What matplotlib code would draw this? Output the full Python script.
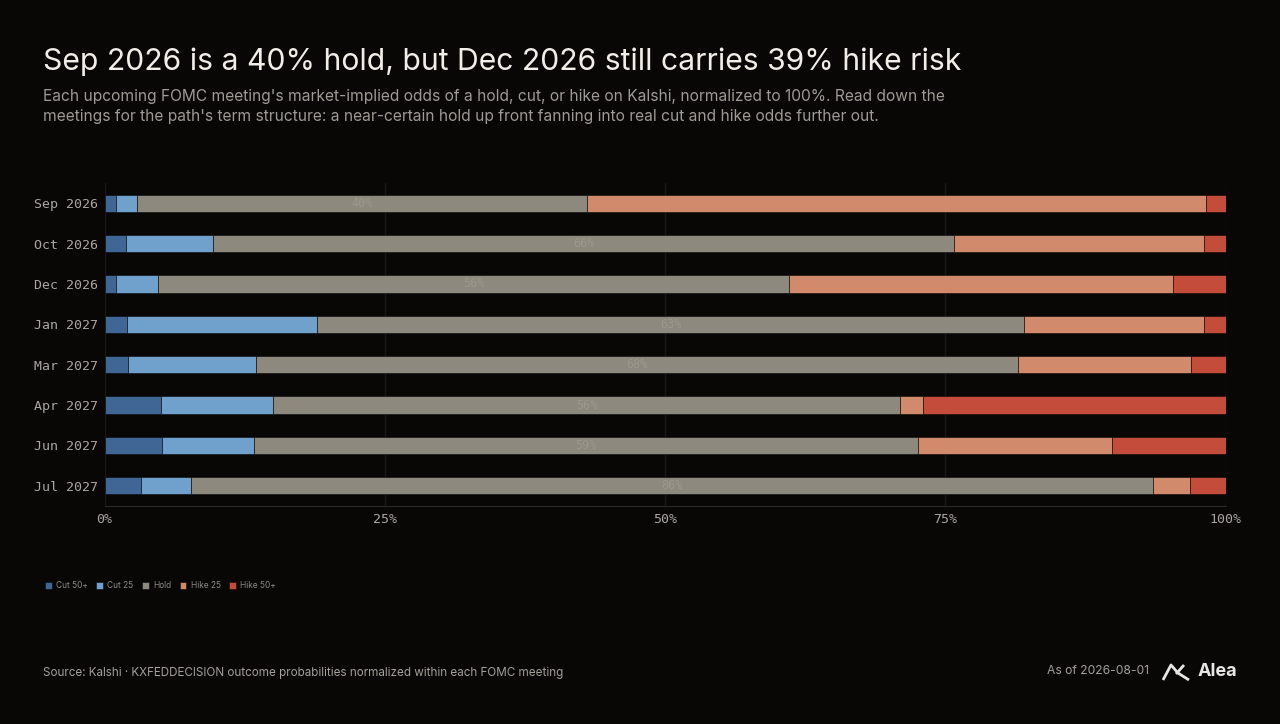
import numpy as np
import matplotlib.pyplot as plt
from matplotlib.lines import Line2D

# --- data (probabilities in %, normalized within each meeting) ---
meetings = ["Sep 2026", "Oct 2026", "Dec 2026", "Jan 2027",
            "Mar 2027", "Apr 2027", "Jun 2027", "Jul 2027"]
outcomes = ["Cut 50+", "Cut 25", "Hold", "Hike 25", "Hike 50+"]
cut50 = [1.0, 1.9, 1.0, 2.0, 2.1, 5.0, 5.1, 3.3]
cut25 = [1.9, 7.8, 3.8, 17.0, 11.4, 10.0, 8.2, 4.4]
hold = [40.1, 66.1, 56.3, 63.0, 68.0, 56.0, 59.3, 85.8]
hike25 = [55.3, 22.3, 34.2, 16.1, 15.4, 2.0, 17.3, 3.3]
hike50 = [1.7, 1.9, 4.7, 1.9, 3.1, 27.0, 10.1, 3.2]

colors = ["#3f6694", "#6fa1cc", "#8e897e", "#d18b6c", "#c44c3b"]
BG = "#080706"

plt.rcParams["font.family"] = ["Inter", "DejaVu Sans"]

fig = plt.figure(figsize=(12.8, 7.24), dpi=100, facecolor=BG)
ax = fig.add_axes([104.5 / 1280, 1 - 506 / 724, 1121 / 1280, 323 / 724])
ax.set_facecolor(BG)

y = np.arange(len(meetings))
series = [cut50, cut25, hold, hike25, hike50]
left = np.zeros(len(meetings))
handles = []
for name, vals, c in zip(outcomes, series, colors):
    vals = np.array(vals)
    bars = ax.barh(y, vals, left=left, height=0.43, color=c,
                   edgecolor=BG, linewidth=0.4, label=name, zorder=3)
    handles.append(bars)
    if name == "Hold":
        for yi, l, v in zip(y, left, vals):
            ax.text(l + v / 2, yi, f"{v:.0f}%", ha="center", va="center",
                    color="#9d988d", fontsize=8.5, family="DejaVu Sans Mono",
                    zorder=4)
    left = left + vals

ax.set_xlim(0, 100)
ax.set_ylim(len(meetings) - 0.5, -0.5)
ax.set_yticks(y)
ax.set_yticklabels(meetings)
ax.set_xticks([0, 25, 50, 75, 100])
ax.set_xticklabels(["0%", "25%", "50%", "75%", "100%"])
for lab in ax.get_xticklabels() + ax.get_yticklabels():
    lab.set_family("DejaVu Sans Mono")
    lab.set_color("#a9a6a0")
    lab.set_fontsize(9.5)
ax.tick_params(length=0, pad=5)
ax.grid(axis="x", color="#191817", linewidth=1, zorder=0)
for s in ["top", "right"]:
    ax.spines[s].set_visible(False)
ax.spines["left"].set_color("#191817")
ax.spines["bottom"].set_color("#2a2927")

# --- titles ---
fig.text(43 / 1280, 1 - 62 / 724, "Sep 2026 is a 40% hold, but Dec 2026 still carries 39% hike risk",
         color="#f1eee8", fontsize=21.7, va="center", ha="left")
fig.text(43 / 1280, 1 - 96 / 724,
         "Each upcoming FOMC meeting's market-implied odds of a hold, cut, or hike on Kalshi, normalized to 100%. Read down the",
         color="#9e9a94", fontsize=11.2, va="center", ha="left")
fig.text(43 / 1280, 1 - 116 / 724,
         "meetings for the path's term structure: a near-certain hold up front fanning into real cut and hike odds further out.",
         color="#9e9a94", fontsize=11.2, va="center", ha="left")

# --- legend ---
leg = fig.legend(handles=handles, labels=outcomes, loc="center left",
                 bbox_to_anchor=(39 / 1280, 1 - 586 / 724), ncol=5, frameon=False,
                 fontsize=6, handlelength=0.8, handleheight=0.8,
                 handletextpad=0.5, columnspacing=1.05, labelcolor="#8c8984",
                 borderpad=0.2)

# --- footer ---
fig.text(43 / 1280, 1 - 673 / 724,
         "Source: Kalshi \u00b7 KXFEDDECISION outcome probabilities normalized within each FOMC meeting",
         color="#a3a09a", fontsize=8.4, va="center", ha="left")
fig.text(1149 / 1280, 1 - 671 / 724, "As of 2026-08-01", color="#a3a09a",
         fontsize=8.7, va="center", ha="right")
fig.text(1198 / 1280, 1 - 671 / 724, "Alea", color="#e8e6e2", fontsize=13,
         fontweight="bold", va="center", ha="left")

# logo mark
def px(x, yy):
    return x / 1280, 1 - yy / 724

for seg in [[(1163, 680), (1171, 665), (1178, 673)],
            [(1176, 674), (1184, 665)],
            [(1178, 673), (1189, 680)]]:
    xs, ys = zip(*[px(a, b) for a, b in seg])
    fig.add_artist(Line2D(xs, ys, color="#e8e6e2", linewidth=2.0,
                          solid_capstyle="butt", transform=fig.transFigure))

fig.savefig("out.png", dpi=100, facecolor=BG)
